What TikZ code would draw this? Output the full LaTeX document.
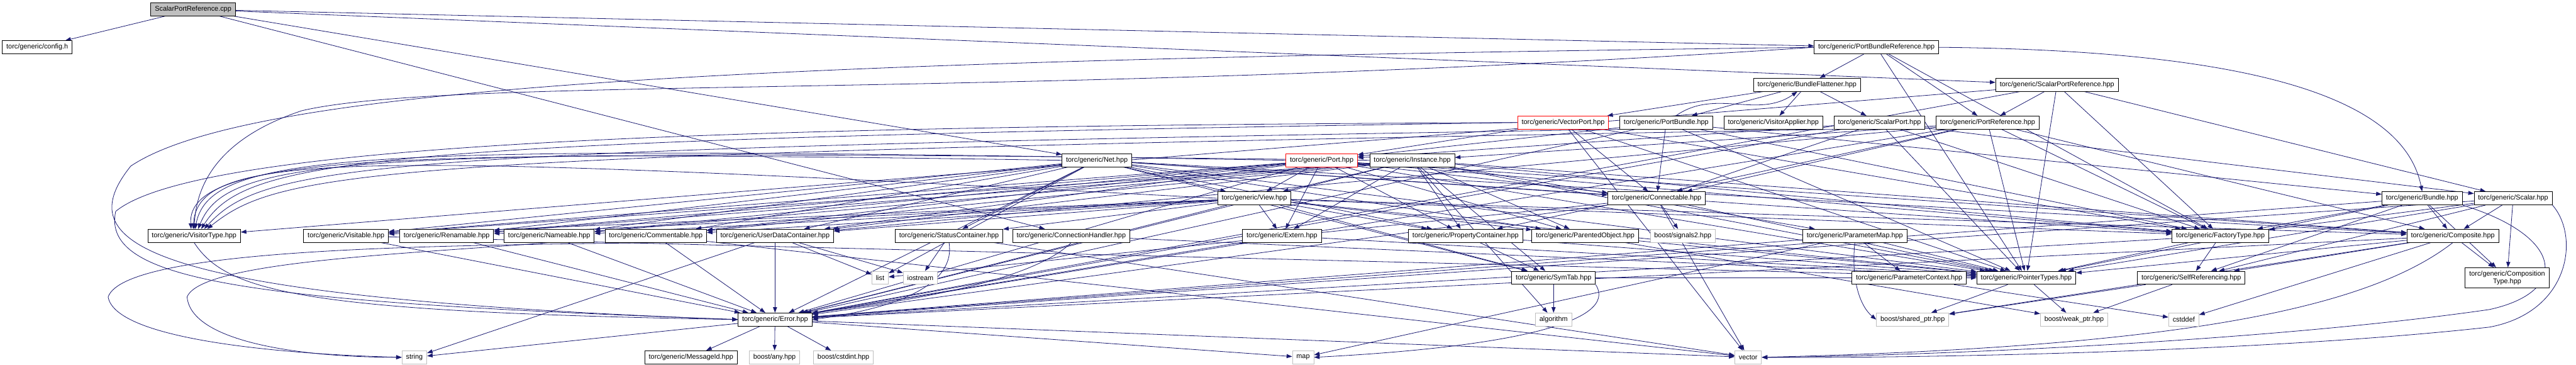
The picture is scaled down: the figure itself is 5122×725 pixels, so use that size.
\documentclass[tikz,border=0pt]{standalone}
\usepackage{fontspec}
\setmainfont{Liberation Sans}
\usepackage{tikz}
\usetikzlibrary{arrows.meta, backgrounds}
\definecolor{depblue}{RGB}{25,25,112}
\definecolor{sysgray}{RGB}{191,191,191}
\definecolor{srcgray}{RGB}{191,191,191}
\tikzset{
  hdr/.style={rectangle, draw=black, fill=white, line width=1.2pt,
    font=\fontsize{13.6}{15}\selectfont, inner xsep=8pt, inner ysep=0pt,
    minimum height=26pt, align=center},
  syshdr/.style={hdr, draw=sysgray},
  redhdr/.style={hdr, draw=red},
  srchdr/.style={hdr, fill=srcgray},
  dep/.style={-{Triangle[length=11pt,width=8pt]}, draw=depblue, line width=1pt}
}

\begin{document}
\begin{tikzpicture}[x=1pt, y=-1pt]
  \useasboundingbox (0,0) rectangle (5122,725);

  % Source file and first level
  \node[srchdr] (cpp) at (384,18.6) {ScalarPortReference.cpp};
  \node[hdr] (config) at (74,94) {torc/generic/config.h};
  \node[hdr] (pbr) at (3731,94) {torc/generic/PortBundleReference.hpp};
  \node[hdr] (bf) at (3593,168.5) {torc/generic/BundleFlattener.hpp};
  \node[hdr] (spr) at (4090,168.5) {torc/generic/ScalarPortReference.hpp};

  % Ports
  \node[redhdr] (vp) at (3108,243.5) {torc/generic/VectorPort.hpp};
  \node[hdr] (pb) at (3313,243.5) {torc/generic/PortBundle.hpp};
  \node[hdr] (va) at (3526,243.5) {torc/generic/VisitorApplier.hpp};
  \node[hdr] (sp) at (3737,243.5) {torc/generic/ScalarPort.hpp};
  \node[hdr] (pr) at (3952,243.5) {torc/generic/PortReference.hpp};
  \node[hdr] (net) at (2181,318.5) {torc/generic/Net.hpp};
  \node[redhdr] (port) at (2628,318.5) {torc/generic/Port.hpp};
  \node[hdr] (inst) at (2808,318.5) {torc/generic/Instance.hpp};
  \node[hdr] (view) at (2494,394) {torc/generic/View.hpp};
  \node[hdr] (conn) at (3294,394) {torc/generic/Connectable.hpp};
  \node[hdr] (bundle) at (4816,394) {torc/generic/Bundle.hpp};
  \node[hdr] (scalar) at (4997,394) {torc/generic/Scalar.hpp};

  % Mixins
  \node[hdr] (vt) at (386,468.5) {torc/generic/VisitorType.hpp};
  \node[hdr] (visit) at (688,468.5) {torc/generic/Visitable.hpp};
  \node[hdr] (ren) at (888,468.5) {torc/generic/Renamable.hpp};
  \node[hdr] (name) at (1092,468.5) {torc/generic/Nameable.hpp};
  \node[hdr] (comm) at (1304,468.5) {torc/generic/Commentable.hpp};
  \node[hdr] (udc) at (1541,468.5) {torc/generic/UserDataContainer.hpp};
  \node[hdr] (sc) at (1887,468.5) {torc/generic/StatusContainer.hpp};
  \node[hdr] (ch) at (2130,468.5) {torc/generic/ConnectionHandler.hpp};
  \node[hdr] (ext) at (2549,468.5) {torc/generic/Extern.hpp};
  \node[hdr] (pc) at (2914,468.5) {torc/generic/PropertyContainer.hpp};
  \node[hdr] (po) at (3152,468.5) {torc/generic/ParentedObject.hpp};
  \node[syshdr] (sig) at (3346,468.5) {boost/signals2.hpp};
  \node[hdr] (pm) at (3688,468.5) {torc/generic/ParameterMap.hpp};
  \node[hdr] (ft) at (4415,468.5) {torc/generic/FactoryType.hpp};
  \node[hdr] (compo) at (4877,468.5) {torc/generic/Composite.hpp};

  % Lower levels
  \node[syshdr] (list) at (1750,552) {list};
  \node[syshdr] (ios) at (1830,552) {iostream};
  \node[hdr] (st) at (3089,552) {torc/generic/SymTab.hpp};
  \node[hdr] (pctx) at (3796,552) {torc/generic/ParameterContext.hpp};
  \node[hdr] (ptr) at (4029,552) {torc/generic/PointerTypes.hpp};
  \node[hdr] (sr) at (4357,552) {torc/generic/SelfReferencing.hpp};
  \node[hdr, minimum height=40pt] (ctype) at (4985,552) {torc/generic/Composition\\Type.hpp};
  \node[hdr] (err) at (1541,635) {torc/generic/Error.hpp};
  \node[syshdr] (alg) at (3089,635) {algorithm};
  \node[syshdr] (shp) at (3803,635) {boost/shared\_ptr.hpp};
  \node[syshdr] (wkp) at (4124,635) {boost/weak\_ptr.hpp};
  \node[syshdr] (cstddef) at (4342,635) {cstddef};
  \node[syshdr] (string) at (824,710) {string};
  \node[hdr] (mid) at (1374,710) {torc/generic/MessageId.hpp};
  \node[syshdr] (any) at (1540,710) {boost/any.hpp};
  \node[syshdr] (cstdint) at (1677,710) {boost/cstdint.hpp};
  \node[syshdr] (map) at (2591,710) {map};
  \node[syshdr] (vector) at (3476,710) {vector};

  \begin{scope}[on background layer]
  % Straight dependencies
  \path (cpp) edge[dep] (config) edge[dep] (pbr) edge[dep] (spr) edge[dep] (net) edge[dep] (ch);
  \path (pbr) edge[dep] (bf) edge[dep] (pr) edge[dep] (ft) edge[dep] (ptr);
  \path (spr) edge[dep] (pr) edge[dep] (scalar) edge[dep] (vt) edge[dep] (ft) edge[dep] (ptr) edge[dep] (err);
  \path (bf) edge[dep] (va) edge[dep] (sp) edge[dep] (vp) edge[dep] (pb);
  \path (pb) edge[dep, out=35, in=215] (bf) edge[dep] (port) edge[dep] (conn) edge[dep] (bundle) edge[dep] (ft) edge[dep] (ptr) edge[dep] (err);
  \path (vp) edge[dep] (port) edge[dep] (conn) edge[dep] (ft) edge[dep] (ptr) edge[dep] (vector);
  \path (sp) edge[dep] (port) edge[dep] (conn) edge[dep] (scalar) edge[dep] (ft) edge[dep] (ptr) edge[dep] (err);
  \path (pr) edge[dep] (inst) edge[dep] (conn) edge[dep] (compo) edge[dep] (ft) edge[dep] (ptr) edge[dep] (err) edge[dep] (pc) edge[dep] (udc);
  \path (net) edge[dep] (view) edge[dep] (conn) edge[dep] (pc) edge[dep] (po) edge[dep] (comm) edge[dep] (name) edge[dep] (ren) edge[dep] (visit) edge[dep] (udc) edge[dep] (sc) edge[dep] (ft) edge[dep] (ptr) edge[dep] (err) edge[dep] (compo) edge[dep] (st) edge[dep] (list);
  \path (port) edge[dep] (view) edge[dep] (ext) edge[dep] (pc) edge[dep] (po) edge[dep] (conn) edge[dep] (comm) edge[dep] (name) edge[dep] (ren) edge[dep] (visit) edge[dep] (udc) edge[dep] (ft) edge[dep] (ptr) edge[dep] (err) edge[dep] (compo);
  \path (inst) edge[dep] (view) edge[dep] (ext) edge[dep] (pc) edge[dep] (po) edge[dep] (st) edge[dep] (pm) edge[dep] (comm) edge[dep] (name) edge[dep] (ren) edge[dep] (visit) edge[dep] (udc) edge[dep] (ft) edge[dep] (ptr) edge[dep] (err) edge[dep] (compo) edge[dep] (alg);
  \path (view) edge[dep] (ext) edge[dep] (st) edge[dep] (pc) edge[dep] (po) edge[dep] (comm) edge[dep] (name) edge[dep] (ren) edge[dep] (visit) edge[dep] (udc) edge[dep] (sc) edge[dep] (ft) edge[dep] (ptr) edge[dep] (err) edge[dep] (compo);
  \path (conn) edge[dep] (sig) edge[dep] (err) edge[dep] (ptr) edge[dep] (list) edge[dep] (vector);
  \path (bundle) edge[dep] (compo) edge[dep] (ctype) edge[dep] (err) edge[dep] (ft) edge[dep] (sr) edge[dep] (ptr);
  \path (scalar) edge[dep] (compo) edge[dep] (ctype) edge[dep] (err) edge[dep] (ft) edge[dep] (sr) edge[dep] (ptr);
  \path (compo) edge[dep] (ctype) edge[dep] (cstddef) edge[dep] (err) edge[dep] (sr) edge[dep] (ptr) edge[dep] (shp);
  \path (ft) edge[dep] (sr) edge[dep] (ptr) edge[dep] (err);
  \path (sr) edge[dep] (shp) edge[dep] (wkp);
  \path (ptr) edge[dep] (shp) edge[dep] (wkp);
  \path (pm) edge[dep] (pctx) edge[dep] (ptr) edge[dep] (map) edge[dep] (err);
  \path (pctx) edge[dep] (cstddef);
  \path (pc) edge[dep] (st) edge[dep] (ptr);
  \path (po) edge[dep] (ptr) edge[dep] (wkp);
  \path (st) edge[dep] (alg) edge[dep] (ptr);
  \path (sc) edge[dep] (ios) edge[dep] (vector);
  \path (ch) edge[dep] (ptr);
  \path (udc) edge[dep] (err) edge[dep] (string) edge[dep] (list) edge[dep] (ios);
  \path (comm) edge[dep] (vector) edge[dep] (err);
  \path (name) edge[dep] (err);
  \path (ren) edge[dep] (err);
  \path (visit) edge[dep] (err) edge[dep] (ptr);
  \path (ext) edge[dep] (err) edge[dep] (ptr);
  \path (err) edge[dep] (mid) edge[dep] (any) edge[dep] (cstdint) edge[dep] (string) edge[dep] (map) edge[dep] (vector);

  % Curved short routes
  \draw[dep] (pm.south) .. controls (3680,560) and (3700,610) .. (shp.west);
  \draw[dep] (st.south east) .. controls (3220,640) and (3000,690) .. (map.east);
  \draw[dep] (sc.south) .. controls (1900,560) and (1800,610) .. (err.east);
  \draw[dep] (ch.south) .. controls (2050,560) and (1800,600) .. (err.north east);
  \draw[dep] (vt.south) .. controls (450,580) and (600,620) .. (err.west);

  % Routes that drop onto VisitorType from above
  \draw[dep] (net.west) .. controls +(-1300,-20) and +(-10,-150) .. ([xshift=-6pt]vt.north);
  \draw[dep] (view.west) .. controls +(-1700,-90) and +(10,-160) .. ([xshift=-2pt]vt.north);
  \draw[dep] (port.west) .. controls +(-1800,-30) and +(30,-160) .. ([xshift=2pt]vt.north);
  \draw[dep] (inst.west) .. controls +(-2000,-25) and +(60,-150) .. ([xshift=8pt]vt.north);
  \draw[dep] (vp.west) .. controls +(-2300,35) and +(90,-140) .. ([xshift=14pt]vt.north);
  \draw[dep] (pb.south west) .. controls +(-2500,40) and +(120,-130) .. ([xshift=20pt]vt.north);
  \draw[dep] (sp.south west) .. controls +(-2900,50) and +(150,-120) .. ([xshift=26pt]vt.north);

  % Long routes round the left side
  \draw[dep] (pbr.west) .. controls (2000,200) and (900,150) .. (600,220) .. controls (420,280) and (390,380) .. (vt.north);
  \draw[dep] (pbr.west) .. controls (1500,120) and (500,170) .. (260,330) .. controls (140,480) and (250,590) .. (err.west);
  \draw[dep] (vp.west) .. controls (1500,250) and (400,280) .. (230,420) .. controls (200,560) and (500,600) .. (err.west);
  \draw[dep] (comm.south) .. controls (900,488) and (250,490) .. (215,590) .. controls (230,680) and (600,705) .. (string.west);
  \draw[dep] (name.south) .. controls (800,505) and (400,520) .. (372,590) .. controls (380,680) and (600,710) .. (string.west);

  % Long routes round the right side
  \draw[dep] (pbr.east) .. controls (4500,100) and (4780,200) .. (bundle.north);
  \draw[dep] (scalar.south east) .. controls (5130,470) and (5110,620) .. (4950,650) .. controls (4500,700) and (3800,712) .. (vector.east);
  \draw[dep] (bundle.south east) .. controls (5100,470) and (5110,580) .. (4950,615) .. controls (4500,680) and (3800,708) .. (vector.east);
  \draw[dep] (compo.south) .. controls (4700,620) and (4300,690) .. (vector.east);
  \end{scope}
\end{tikzpicture}
\end{document}
